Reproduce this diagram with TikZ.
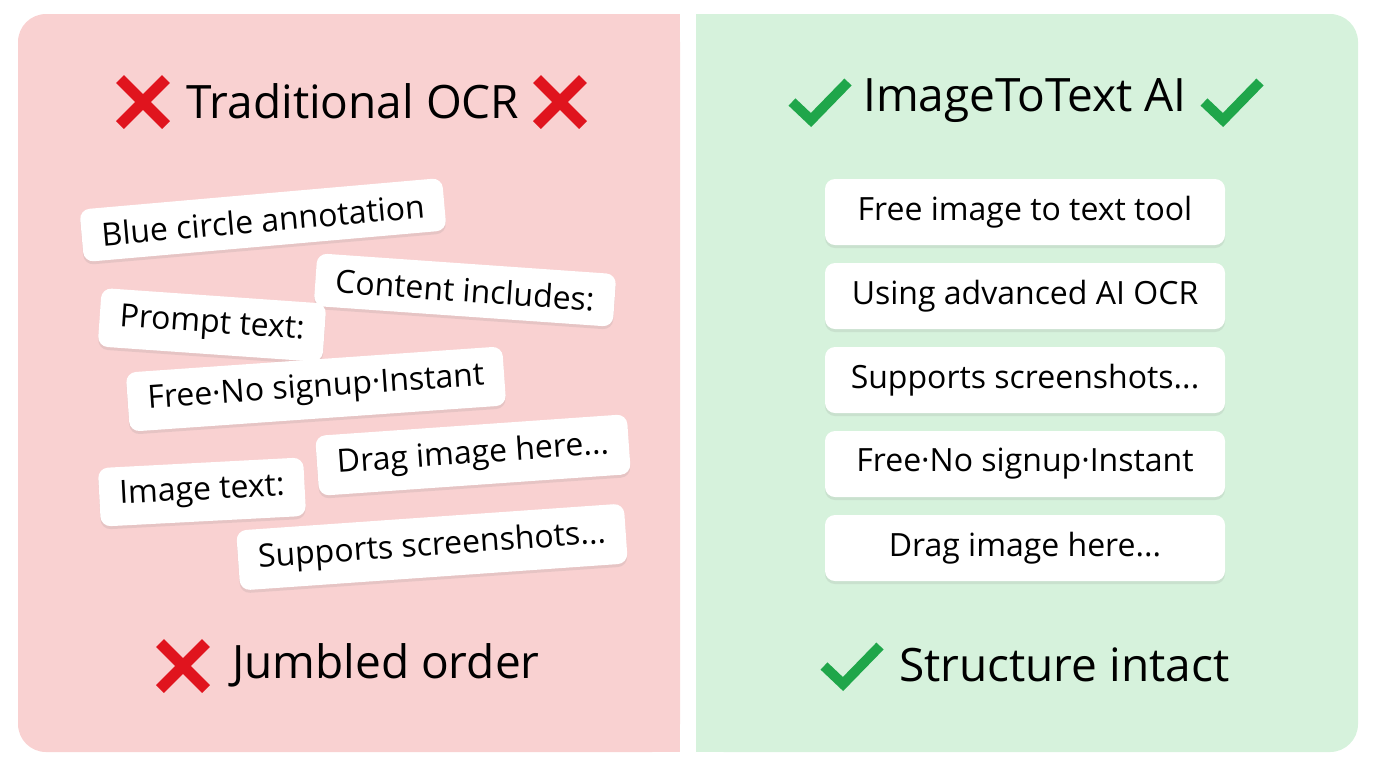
\documentclass[tikz,border=0pt]{standalone}
\usepackage{fontspec}
\setmainfont{Open Sans}
\usetikzlibrary{shadows,calc}
\definecolor{badbg}{HTML}{F9D1D1}
\definecolor{goodbg}{HTML}{D6F2DC}
\definecolor{badred}{HTML}{E0141E}
\definecolor{goodgreen}{HTML}{1FA64A}
\tikzset{
  card/.style={fill=white, rounded corners=5pt, inner xsep=10pt, inner ysep=7pt,
    font=\fontsize{16}{18}\selectfont, drop shadow={shadow xshift=0pt, shadow yshift=-1.5pt, opacity=0.15}},
  rcard/.style={card, minimum width=200pt, minimum height=33pt},
  title/.style={font=\fontsize{23}{26}\selectfont},
}
\newcommand{\badmark}[2]{%
  \draw[badred, line width=5.5pt] ($(#1,#2)+(-23,-23)$) -- ($(#1,#2)+(23,23)$);
  \draw[badred, line width=5.5pt] ($(#1,#2)+(-23,23)$) -- ($(#1,#2)+(23,-23)$);}
\newcommand{\goodmark}[2]{%
  \draw[goodgreen, line width=5pt, line join=miter] ($(#1,#2)+(-28,0)$) -- ($(#1,#2)+(-9,18)$) -- ($(#1,#2)+(28,-20)$);}
\begin{document}
\begin{tikzpicture}[x=0.5pt, y=-0.5pt]
  \useasboundingbox (0,0) rectangle (1376,768);
  % panels
  \fill[badbg, rounded corners=14pt] (18,14) rectangle (680,752);
  \fill[badbg] (600,14) rectangle (680,752);
  \fill[goodbg, rounded corners=14pt] (696,14) rectangle (1358,752);
  \fill[goodbg] (696,14) rectangle (780,752);
  % titles
  \node[title] (tocr) at (353,101) {Traditional OCR};
  \badmark{143}{102}
  \badmark{560}{102}
  \node[title] (tai) at (1025,101) {ImageToText AI};
  \goodmark{820}{102}
  \goodmark{1232}{102}
  % jumbled cards
  \node[card, rotate=5] (blue) at (263,220) {Blue circle annotation};
  \node[card, rotate=-4] (content) at (465,290) {Content includes:};
  \node[card, rotate=-4] (prompt) at (212,325) {Prompt text:};
  \node[card, rotate=4] (free) at (316,389) {Free·No signup·Instant};
  \node[card, rotate=4] (drag) at (473,455) {Drag image here...};
  \node[card, rotate=3] (imgtext) at (202,492) {Image text:};
  \node[card, rotate=4] (supp) at (432,547) {Supports screenshots...};
  % ordered cards
  \node[rcard] (r1) at (1025,212) {Free image to text tool};
  \node[rcard] (r2) at (1025,296) {Using advanced AI OCR};
  \node[rcard] (r3) at (1025,380) {Supports screenshots...};
  \node[rcard] (r4) at (1025,464) {Free·No signup·Instant};
  \node[rcard] (r5) at (1025,548) {Drag image here...};
  % verdicts
  \node[title, anchor=west] (jumb) at (225,665) {Jumbled order};
  \badmark{183}{666}
  \node[title, anchor=west] (intact) at (892,665) {Structure intact};
  \goodmark{852}{666}
\end{tikzpicture}
\end{document}
